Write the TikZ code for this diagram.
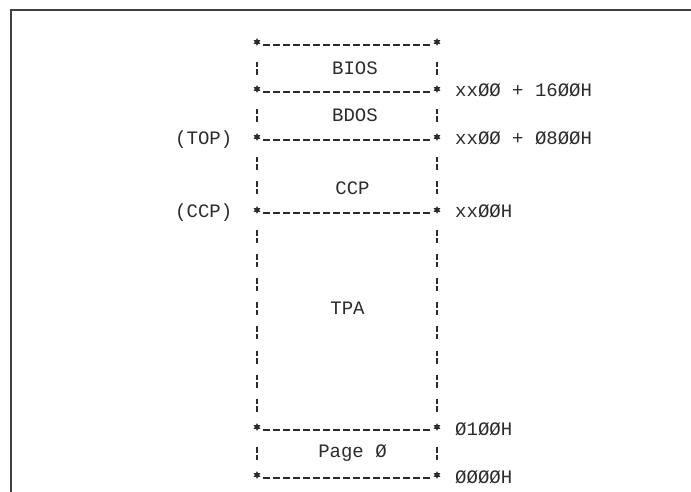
\documentclass[tikz,border=0pt]{standalone}
\usepackage{fontspec}
\setmonofont{Liberation Mono}
\usetikzlibrary{shapes.geometric}
\definecolor{ink}{HTML}{2B2B2B}
\begin{document}
\begin{tikzpicture}[x=1pt,y=-1pt,
  asterisk/.style={star, star points=6, star point ratio=1.9, minimum size=8pt, inner sep=0pt, fill=ink, draw=none},
  txt/.style={font=\ttfamily\fontsize{19}{19}\selectfont, text=ink, inner sep=0pt, text height=11pt, text depth=0pt},
  hline/.style={draw=ink, line width=1.2pt, dash pattern=on 7pt off 3pt, shorten <=6pt, shorten >=4pt},
  vbar/.style={draw=ink, line width=1.1pt, dash pattern=on 5.5pt off 2pt on 5.5pt off 11.1pt, shorten <=20pt, shorten >=10pt},
  frame/.style={draw=ink!90, line width=2pt}]
\useasboundingbox (0,0) rectangle (691,492);
% frame
\draw[frame] (691,10) -- (10.5,10) -- (10.5,492);
% star nodes
\foreach \i/\y in {0/42,1/89,2/137,3/210,4/427,5/475}{
  \node[asterisk] (l\i) at (257,\y) {};
  \node[asterisk] (r\i) at (437,\y) {};
}
% horizontal dashed rows
\foreach \i in {0,...,5}{
  \draw[hline] ([yshift=-3pt]l\i.center) -- ([yshift=-3pt]r\i.center);
}
% vertical broken bars
\foreach \a/\b in {0/1,1/2,2/3,3/4,4/5}{
  \draw[vbar] (l\a.center) -- (l\b.center);
  \draw[vbar] (r\a.center) -- (r\b.center);
}
% box labels
\node[txt] (bios) at (355,69) {BIOS};
\node[txt] (bdos) at (355,116.5) {BDOS};
\node[txt] (ccp) at (352.5,189) {CCP};
\node[txt] (tpa) at (347.5,309) {TPA};
\node[txt] (page) at (352.5,452) {Page Ø};
% left labels
\node[txt, anchor=west] (top) at (175,139.5) {(TOP)};
\node[txt, anchor=west] (ccpl) at (175,212.5) {(CCP)};
% right labels
\node[txt, anchor=west] (a1) at (455,91) {xxØØ + 16ØØH};
\node[txt, anchor=west] (a2) at (455,139.5) {xxØØ + Ø8ØØH};
\node[txt, anchor=west] (a3) at (455,212) {xxØØH};
\node[txt, anchor=west] (a4) at (455,429.5) {Ø1ØØH};
\node[txt, anchor=west] (a5) at (455,477.5) {ØØØØH};
\end{tikzpicture}
\end{document}
